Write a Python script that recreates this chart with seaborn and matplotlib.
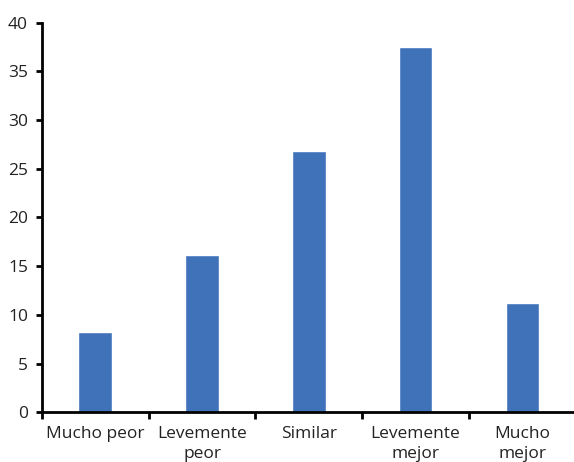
import matplotlib
matplotlib.use("Agg")
import matplotlib.pyplot as plt
import seaborn as sns
import pandas as pd
import numpy as np

categories = ["Mucho peor", "Levemente\npeor", "Similar", "Levemente\nmejor", "Mucho\nmejor"]
values = [8.2, 16.1, 26.8, 37.5, 11.2]
y_ticks = [0, 5, 10, 15, 20, 25, 30, 35, 40]

sns.set_theme(style="white")
plt.rcParams["font.family"] = ["Open Sans", "DejaVu Sans"]

df = pd.DataFrame({"cat": categories, "val": values})

fig = plt.figure(figsize=(5.74, 4.62), dpi=100)
ax = fig.add_axes([0.073, 0.1076, 0.93, 0.8433])

sns.barplot(data=df, x="cat", y="val", color="#4072BA", saturation=1,
            width=0.315, ax=ax)

ax.set_xlim(-0.5, len(categories) - 0.5)
ax.set_ylim(0, 40)
ax.set_yticks(y_ticks)
ax.set_yticklabels([str(t) for t in y_ticks], fontsize=12.5, color="#222222")
ax.set_xlabel("")
ax.set_ylabel("")

# category labels centred, tick marks on category boundaries
ax.set_xticks(range(len(categories)))
ax.set_xticklabels(categories, fontsize=12.5, color="#222222", linespacing=1.3)
ax.tick_params(axis="x", which="major", length=0, pad=10)
ax.set_xticks(np.arange(-0.5, len(categories)), minor=True)
ax.tick_params(axis="x", which="minor", bottom=True, length=5, width=2, color="black")
ax.tick_params(axis="y", left=True, length=4, width=2, color="black", pad=6)

for side in ["top", "right"]:
    ax.spines[side].set_visible(False)
for side in ["left", "bottom"]:
    ax.spines[side].set_color("black")
    ax.spines[side].set_linewidth(2)

fig.savefig("out.png", dpi=100, facecolor="white")
